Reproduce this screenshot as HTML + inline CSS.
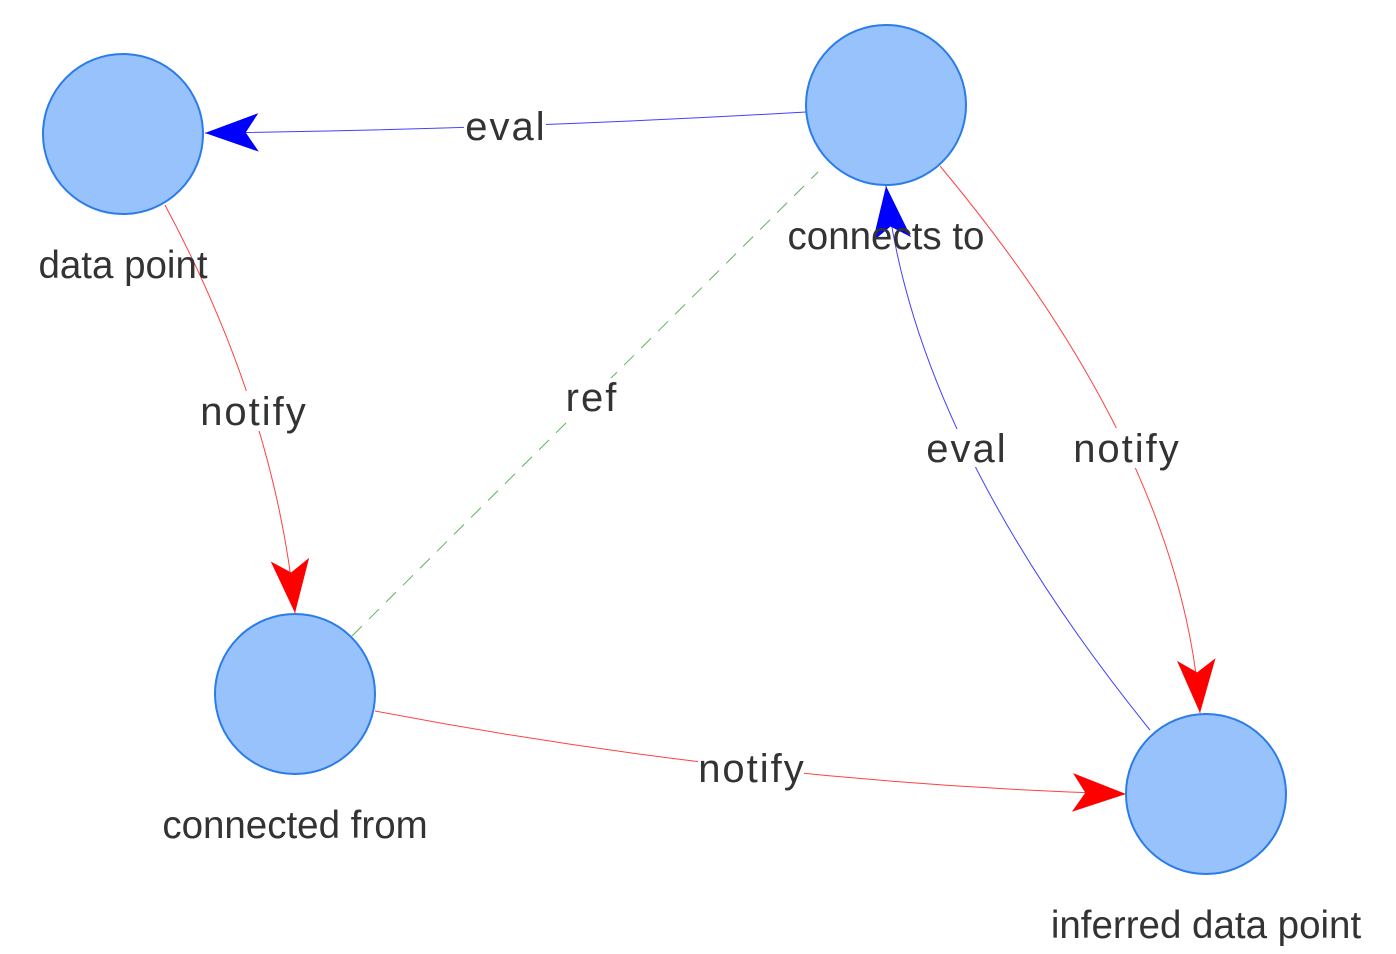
<!DOCTYPE html>
<html><head><meta charset="utf-8"><style>
html,body{margin:0;padding:0;background:#fff;}
svg{display:block;}
text{font-family:"Liberation Sans",sans-serif;fill:#333;}
</style></head><body>
<svg width="1396" height="954" viewBox="0 0 1396 954" xmlns="http://www.w3.org/2000/svg">
<defs>
<marker id="ab" markerUnits="userSpaceOnUse" markerWidth="60" markerHeight="60" viewBox="-52 -25 56 50" refX="0" refY="0" orient="auto">
<path d="M0,0 L-50,-18 L-38,0 L-50,18 Z" fill="#0000ff"/></marker>
<marker id="ar" markerUnits="userSpaceOnUse" markerWidth="60" markerHeight="60" viewBox="-52 -25 56 50" refX="0" refY="0" orient="auto">
<path d="M0,0 L-50,-18 L-38,0 L-50,18 Z" fill="#ff0000"/></marker>
</defs>
<g fill="none" stroke-width="1" stroke-opacity="0.75">
<path d="M806,112 Q504.5,129.5 205,133" stroke="#0000ff" marker-end="url(#ab)"/>
<path d="M165,205 Q276,413 295,613" stroke="#ff0000" marker-end="url(#ar)"/>
<path d="M352,636 L818,172" stroke="#2a9a2a" stroke-dasharray="14,10"/>
<path d="M1150,730 Q914,438 886,186" stroke="#0000ff" marker-end="url(#ab)"/>
<path d="M940,166 Q1182,456 1200,713" stroke="#ff0000" marker-end="url(#ar)"/>
<path d="M375,711 Q751.5,783 1126,794" stroke="#ff0000" marker-end="url(#ar)"/>
</g>
<g fill="#97c2fc" stroke="#2b7ce9" stroke-width="2">
<circle cx="123" cy="134" r="80"/>
<circle cx="886" cy="105" r="80"/>
<circle cx="295" cy="694" r="80"/>
<circle cx="1206" cy="794" r="80"/>
</g>
<g font-size="38.5" text-anchor="middle">
<text x="123" y="278">data point</text>
<text x="886" y="249">connects to</text>
<text x="295" y="838">connected from</text>
<text x="1206" y="938">inferred data point</text>
</g>
<g font-size="40" text-anchor="middle" letter-spacing="2">
<rect x="464" y="108" width="82" height="38" fill="#fff"/><text x="506" y="140">eval</text>
<rect x="200" y="391" width="106" height="40" fill="#fff"/><text x="254" y="425">notify</text>
<rect x="564" y="378" width="54" height="38" fill="#fff"/><text x="592" y="411">ref</text>
<rect x="925" y="429" width="82" height="38" fill="#fff"/><text x="967" y="462">eval</text>
<rect x="1073" y="428" width="106" height="40" fill="#fff"/><text x="1127" y="462">notify</text>
<rect x="698" y="748" width="106" height="40" fill="#fff"/><text x="752" y="782">notify</text>
</g>
</svg>
</body></html>
